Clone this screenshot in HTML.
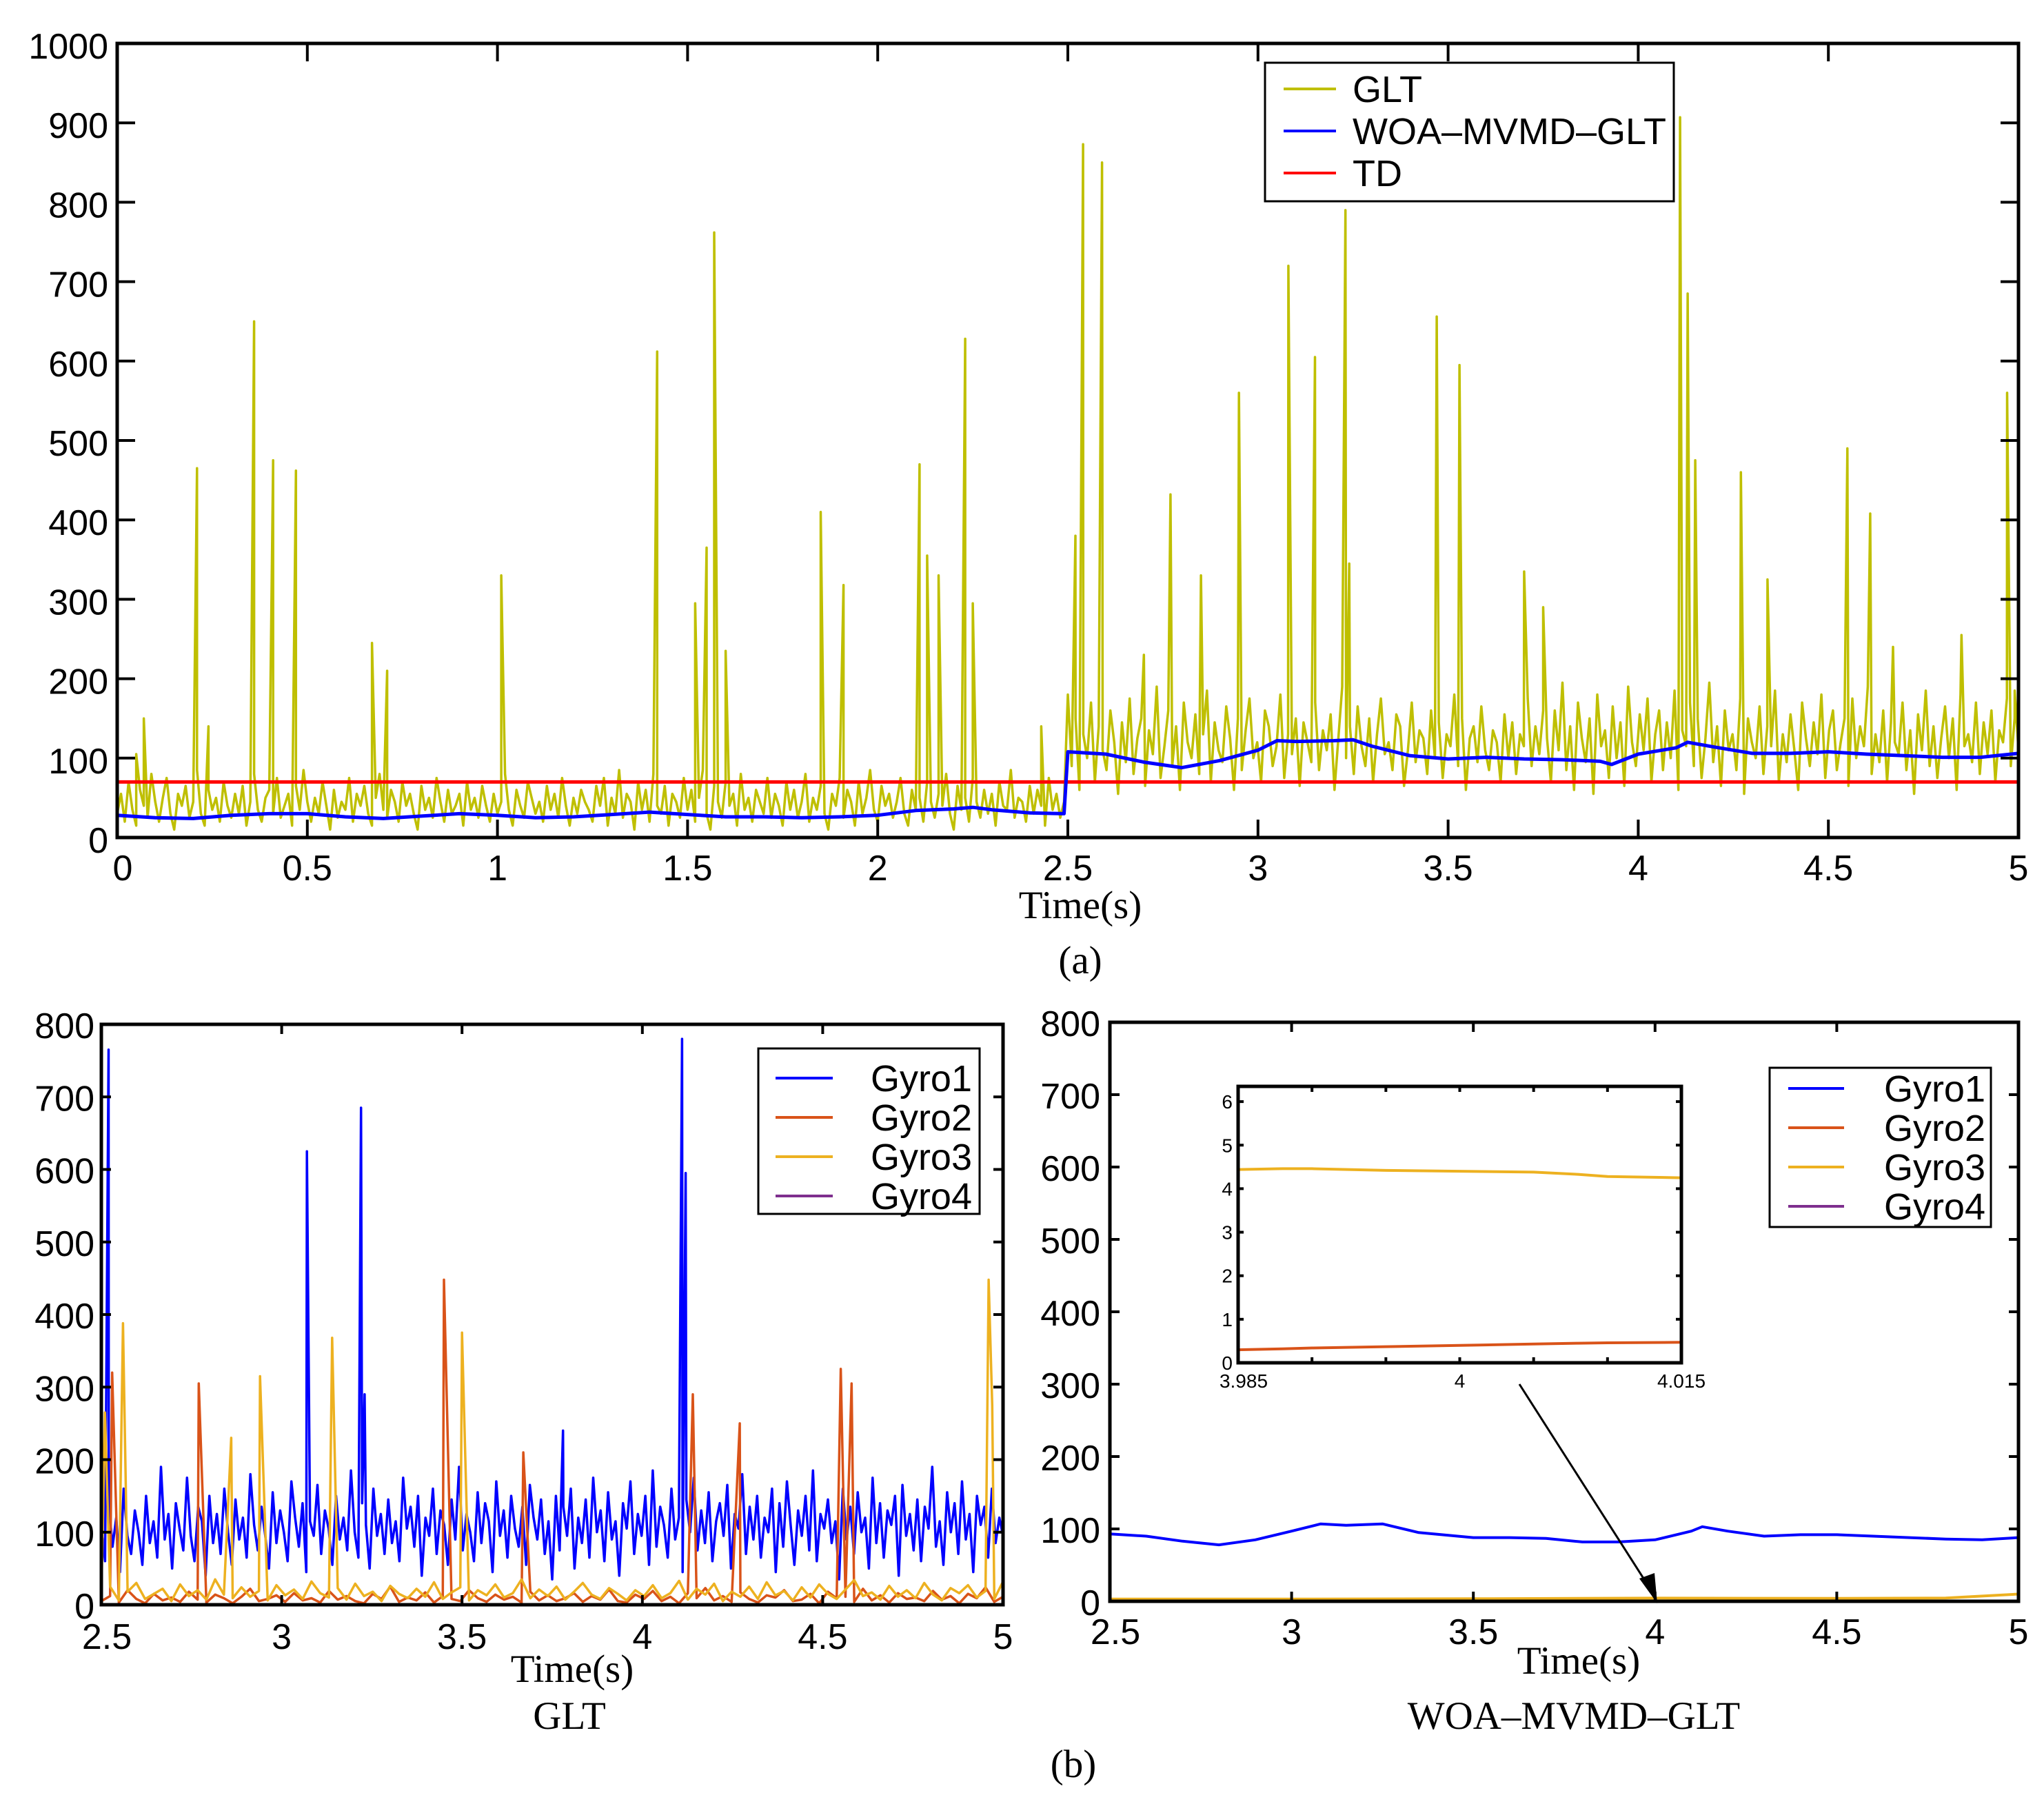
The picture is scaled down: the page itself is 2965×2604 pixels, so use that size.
<!DOCTYPE html>
<html><head><meta charset="utf-8"><style>
body{margin:0;background:#fff}
svg{display:block}
.tk{font-family:"Liberation Sans",sans-serif;font-size:52px;fill:#000}
.sm{font-family:"Liberation Sans",sans-serif;font-size:28px;fill:#000}
.lg{font-family:"Liberation Sans",sans-serif;font-size:54px;fill:#000}
.sf{font-family:"Liberation Serif",serif;font-size:57px;fill:#000}
</style></head><body>
<svg id="c" width="2965" height="2604" viewBox="0 0 2965 2604" xmlns="http://www.w3.org/2000/svg">
<text class="sf" x="1567" y="1332" text-anchor="middle">Time(s)</text>
<text class="sf" x="1567" y="1412" text-anchor="middle" font-size="64">(a)</text>
<text class="sf" x="830" y="2440" text-anchor="middle">Time(s)</text>
<text class="sf" x="826" y="2508" text-anchor="middle">GLT</text>
<text class="sf" x="2290" y="2428" text-anchor="middle">Time(s)</text>
<text class="sf" x="2283" y="2508" text-anchor="middle">WOA–MVMD–GLT</text>
<text class="sf" x="1557" y="2578" text-anchor="middle" font-size="64">(b)</text>
</svg>
<script>
// ---------- data ----------
const gltNoiseA=[30,55,20,70,35,15,60,40,25,80,45,20,50,75,30,10,55,40,65,25,45,85,30,15,60,35,50,20,70,40,25,55,30,65,15,45,80,35,20,50,60,30,75,25,40,55,15,65,35,85,45,20,50,30,70,40,10,60,25,45,35,75,20,55,40,65,30,15,50,80,35,25,60,45,20,70,40,55,30,10,65,35,50,25,75,45,20,60,30,40,55,15,70,35,50,25,65,40,20,55,30,45,80,35,15,60,40,25,70,50,30,45,20,65,35,55,25,75,40,15,50,30,60,45,35,
20,65,40,75,15,50,30,85,25,55,45,10,70,35,60,20,80,40,30,65,15,55,45,25,75,35,60,20,50,85,30,10,65,45,25,70,40,55,15,80,35,50,20,60,45,30,75,25,55,40,15,70,35,60,25,45,80,20,50,35,65,30,10,55,40,75,25,60,45,15,70,30,50,85,35,20,65,40,55,25,45,75,30,15,60,35,50,20,70,45,25,55,40,80,30,10,65,35,50,20,75,45,25,60,30,55,15,70,40,35,85,25,50,45,20,65,30,60,40,15,75,35,55,25,45];
const gltNoiseB=[180,90,150,60,130,100,170,70,140,110,85,160,120,55,145,95,175,80,125,150,65,135,105,190,75,115,160,90,140,60,170,120,100,155,80,130,185,70,145,110,95,165,125,60,150,85,135,175,100,120,70,160,140,90,115,180,75,130,105,150,65,145,120,95,170,85,135,110,155,60,125,190,100,140,80,165,115,90,150,70,130,175,105,120,85,155,140,65,110,170,95,135,125,80,160,100,145,75,130,115,180,90,150,60,125,140,95,165,110,85,135,120,70,155,100,145,80,130,115,175,90,140,105,160,125,
70,160,110,195,85,140,60,170,125,95,150,55,180,115,135,75,165,100,145,65,190,120,90,155,110,175,70,130,160,85,145,100,185,60,135,115,170,90,150,75,125,195,95,140,65,160,110,130,85,175,55,150,120,100,165,80,140,115,185,70,130,95,155,110,60,170,125,90,145,105,180,75,135,160,85,120,150,65,175,100,140,115,190,80,130,95,160,70,145,120,105,170,85,135,55,155,110,185,90,140,75,125,165,100,150,60,180,115,130,95,170,80,145,105,160,70,135,120,175,90,150,110];
const gltSpikeT=[0.05,0.07,0.21,0.24,0.36,0.41,0.47,0.67,0.71,1.01,1.42,1.52,1.55,1.57,1.6,1.85,1.91,2.11,2.13,2.16,2.23,2.25,2.43,2.52,2.54,2.59,2.7,2.77,2.85,2.95,3.08,3.15,3.23,3.24,3.47,3.53,3.7,3.75,4.11,4.13,4.15,4.27,4.34,4.55,4.61,4.67,4.85,4.97,4.99];
const gltSpikeV=[105,150,465,140,650,475,462,245,210,330,612,295,365,762,235,410,318,470,355,330,628,295,140,380,873,850,230,432,330,560,720,605,790,345,656,595,335,290,907,685,475,460,325,490,408,240,255,560,185];
const woaT=[0,0.1,0.2,0.3,0.4,0.5,0.6,0.7,0.8,0.9,1.0,1.1,1.2,1.3,1.4,1.5,1.6,1.7,1.8,1.9,2.0,2.1,2.2,2.25,2.3,2.4,2.49,2.5,2.6,2.7,2.8,2.9,3.0,3.05,3.1,3.2,3.25,3.3,3.4,3.5,3.6,3.7,3.8,3.9,3.93,4.0,4.1,4.13,4.2,4.3,4.4,4.5,4.6,4.7,4.8,4.9,5.0];
const woaV=[28,25,24,28,30,30,26,24,27,30,28,25,26,29,32,29,26,26,25,26,28,34,36,38,35,31,30,108,105,95,88,97,110,122,121,122,123,115,103,99,101,99,98,96,92,105,113,120,114,106,106,108,105,103,101,101,106];
const tdValue=70;
const g1Noise=[110,60,140,80,120,45,160,95,70,130,100,55,150,85,115,65,190,90,125,50,140,105,75,175,95,60,135,115,40,150,85,125,70,160,100,55,145,90,120,65,180,110,75,135,95,50,155,85,130,100,60,170,120,80,140,45,115,95,165,70,130,105,55,150,90,120,75,185,100,65,140,110,50,160,95,125,70,145,85,115,60,175,105,135,80,150,40,120,95,160,70,130,110,55,145,90,190,75,125,100,60,155,85,140,115,45,170,95,130,65,150,105,80,135,55,165,120,90,145,70,115,35,150,
75,135,95,160,50,120,85,145,65,175,100,130,60,155,90,115,40,140,105,170,70,125,95,150,55,185,80,135,110,65,160,90,120,45,145,100,175,75,130,85,155,60,115,140,95,165,50,125,105,180,70,135,90,150,65,120,100,160,45,140,80,170,110,55,130,95,150,75,185,60,125,105,145,85,115,35,160,90,135,70,155,100,120,50,175,85,140,65,130,110,150,40,165,95,125,75,145,60,135,105,190,80,115,55,155,100,140,70,170,90,125,45,150,110,135,65,160,85,120,95];
const g1SpikeT=[2.52,3.07,3.22,3.23,3.78,4.11,4.12];
const g1SpikeV=[765,625,685,290,240,780,595];
const g2Noise=[5,12,3,20,8,2,15,6,10,4,18,7,3,14,9,2,11,22,5,8,13,4,16,6,9,3,19,7,12,5,2,15,8,25,4,10,6,17,3,12,8,5,20,9,4,14,7,11,3,18,6,13,5,9,16,4,12,7,21,5,
3,14,8,19,5,11,2,16,9,23,6,12,4,17,8,3,13,10,20,5,7,15,2,18,9,11,4,22,6,13,3,16,8,10,5,19,7,12,2,15,9,24,4,11];
const g2SpikeT=[2.53,2.77,3.45,3.67,4.14,4.27,4.55,4.58];
const g2SpikeV=[320,305,448,210,290,250,325,305];
const g3Noise=[10,25,6,18,30,8,15,22,5,28,12,20,7,35,14,9,24,11,19,6,27,13,21,8,32,16,10,23,7,29,12,18,5,26,15,9,22,11,31,8,17,24,6,20,13,28,10,16,35,9,21,12,25,7,18,30,14,8,23,15,
6,20,12,27,9,16,33,7,22,14,29,5,18,11,25,8,31,13,19,6,24,10,28,15,8,21,34,12,17,7,26,11,20,9,30,14,6,23,16,27,10,19,8,32];
const g3SpikeT=[2.51,2.56,2.86,2.94,3.14,3.5,4.96,4.97];
const g3SpikeV=[265,388,230,315,368,375,448,275];
const r1T=[2.5,2.6,2.7,2.8,2.9,3.0,3.08,3.15,3.25,3.35,3.5,3.6,3.7,3.8,3.9,4.0,4.1,4.13,4.2,4.3,4.4,4.5,4.6,4.7,4.8,4.9,5.0];
const r1V=[93,90,83,78,85,97,107,105,107,95,88,88,87,82,82,85,97,103,97,90,92,92,90,88,86,85,88];
const r3T=[2.5,3.0,3.5,4.0,4.5,4.8,5.0];
const r3V=[3,3,3.5,4.4,4,4.5,10];
const r2V=0.4;
const inT=[3.985,3.988,3.99,3.995,4.0,4.005,4.008,4.01,4.015];
const in3V=[4.44,4.46,4.46,4.42,4.4,4.38,4.33,4.28,4.25];
const in2V=[0.3,0.32,0.34,0.37,0.4,0.43,0.45,0.46,0.47];
const topXTicks=[0,0.5,1,1.5,2,2.5,3,3.5,4,4.5,5];
const topYTicks=[0,100,200,300,400,500,600,700,800,900,1000];
const botXTicks=[2.5,3,3.5,4,4.5,5];
const botYTicks=[0,100,200,300,400,500,600,700,800];
const inXTicks=[3.985,4,4.015];
const inYTicks=[0,1,2,3,4,5,6];

// ---------- helpers ----------
const svg=document.getElementById('c');
const NS='http://www.w3.org/2000/svg';
function mk(tag,attrs,parent){const e=document.createElementNS(NS,tag);for(const k in attrs)e.setAttribute(k,attrs[k]);(parent||svg).appendChild(e);return e;}
function axis(x0,x1,y0,y1,xmin,xmax,ymin,ymax){return{x:v=>x0+(v-xmin)/(xmax-xmin)*(x1-x0),y:v=>y1-(v-ymin)/(ymax-ymin)*(y1-y0),x0,x1,y0,y1};}
function merge(noise,t0,t1,spT,spV){const pts=noise.map((v,i)=>[t0+i*(t1-t0)/(noise.length-1),v]);for(let i=0;i<spT.length;i++)pts.push([spT[i],spV[i]]);pts.sort((a,b)=>a[0]-b[0]);return pts;}
function line(ax,pts,color,w,name){const d=pts.map((p,i)=>(i?'L':'M')+ax.x(p[0]).toFixed(1)+' '+ax.y(p[1]).toFixed(1)).join('');const p=mk('path',{d:d,fill:'none',stroke:color,'stroke-width':w,'stroke-linejoin':'round'});


return p;}
function frame(ax,xt,yt,cls,xfmt,tl,name,xlOff,ylOff,yb){
  const g=mk('g',{});
  
  
  xt.forEach(v=>{const x=ax.x(v);mk('line',{x1:x,x2:x,y1:ax.y1,y2:ax.y1-tl,stroke:'#000','stroke-width':4},g);mk('line',{x1:x,x2:x,y1:ax.y0,y2:ax.y0+tl,stroke:'#000','stroke-width':4},g);
    const t=mk('text',{x:x+ (v===xt[0]?8:0),y:ax.y1+xlOff,'text-anchor':'middle',class:cls},g);t.textContent=xfmt(v);
    
    });
  yt.forEach(v=>{const y=ax.y(v);mk('line',{x1:ax.x0,x2:ax.x0+tl,y1:y,y2:y,stroke:'#000','stroke-width':4},g);mk('line',{x1:ax.x1,x2:ax.x1-tl,y1:y,y2:y,stroke:'#000','stroke-width':4},g);
    const t=mk('text',{x:ax.x0-ylOff,y:y+yb,'text-anchor':'end',class:cls},g);t.textContent=String(v);
    
    });
  mk('rect',{x:ax.x0,y:ax.y0,width:ax.x1-ax.x0,height:ax.y1-ax.y0,fill:'none',stroke:'#000','stroke-width':5},g);
}
function legend(x,y,w,h,items,rowY,lx0,lx1,tx,anchor,name){
  const g=mk('g',{});
  
  
  mk('rect',{x:x,y:y,width:w,height:h,fill:'#fff',stroke:'#000','stroke-width':3},g);
  items.forEach((it,i)=>{mk('line',{x1:lx0,x2:lx1,y1:rowY[i],y2:rowY[i],stroke:it[1],'stroke-width':4},g);
    const t=mk('text',{x:tx,y:rowY[i]+19,'text-anchor':anchor,class:'lg'},g);t.textContent=it[0];
    
    });
}
// ---------- top plot ----------
const A=axis(170,2928,63,1215,0,5,0,1000);
line(A,merge(gltNoiseA,0,2.49,gltSpikeT.filter(t=>t<2.5),gltSpikeV.filter((v,i)=>gltSpikeT[i]<2.5)).concat(merge(gltNoiseB,2.5,5,gltSpikeT.filter(t=>t>=2.5),gltSpikeV.filter((v,i)=>gltSpikeT[i]>=2.5))),'#BFBF00',3.5,'glt-line');
line(A,[[0,tdValue],[5,tdValue]],'#FF0000',5,'td-line');
line(A,woaT.map((t,i)=>[t,woaV[i]]),'#0000FF',5,'woa-mvmd-glt-line');
frame(A,topXTicks,topYTicks,'tk',v=>String(v),26,'top-axes',62,13,22);
legend(1835,91,593,201,[['GLT','#BFBF00'],['WOA–MVMD–GLT','#0000FF'],['TD','#FF0000']],[129,190,251],1862,1938,1962,'start','top-legend');
// ---------- bottom-left ----------
const B=axis(147,1455,1486,2328,2.5,5,0,800);
line(B,merge(g1Noise,2.5,5,g1SpikeT,g1SpikeV),'#0000FF',3.5,'bl-gyro1-line');
line(B,merge(g2Noise,2.5,5,g2SpikeT,g2SpikeV),'#D95319',3.5,'bl-gyro2-line');
line(B,merge(g3Noise,2.5,5,g3SpikeT,g3SpikeV),'#EDB120',3.5,'bl-gyro3-line');
line(B,[[2.5,0.5],[5,0.5]],'#7E2F8E',4,'bl-gyro4-line');
frame(B,botXTicks,botYTicks,'tk',v=>String(v),14,'bl-axes',64,10,20);
const gy=[['Gyro1','#0000FF'],['Gyro2','#D95319'],['Gyro3','#EDB120'],['Gyro4','#7E2F8E']];
legend(1100,1521,321,240,gy,[1564,1621,1678,1735],1125,1208,1410,'end','bl-legend');
// ---------- bottom-right ----------
const C=axis(1610,2928,1483,2323,2.5,5,0,800);
line(C,r1T.map((t,i)=>[t,r1V[i]]),'#0000FF',4,'br-gyro1-line');
line(C,r3T.map((t,i)=>[t,r3V[i]]),'#EDB120',4,'br-gyro3-line');
line(C,[[2.5,r2V],[5,r2V]],'#D95319',3,'br-gyro2-line');
line(C,[[2.5,0],[5,0]],'#7E2F8E',4,'br-gyro4-line');
frame(C,botXTicks,botYTicks,'tk',v=>String(v),14,'br-axes',62,14,20);
legend(2567,1549,321,231,gy,[1579,1636,1693,1750],2594,2675,2880,'end','br-legend');
// ---------- inset ----------
const I=axis(1796,2439,1576,1977,3.985,4.015,0,6.35);
mk('rect',{x:1796,y:1576,width:643,height:401,fill:'#fff'});
line(I,inT.map((t,i)=>[t,in3V[i]]),'#EDB120',4,'inset-gyro3-line');
line(I,inT.map((t,i)=>[t,in2V[i]]),'#D95319',4,'inset-gyro2-line');
line(I,[[3.985,0],[4.015,0]],'#7E2F8E',4,'inset-gyro4-line');
frame(I,[3.985,3.99,3.995,4,4.005,4.01,4.015],inYTicks,'sm',v=>inXTicks.includes(v)?String(v):'',8,'inset-axes',36,8,10);
// arrow
const ar=mk('line',{x1:2204,y1:2008,x2:2397,y2:2310,stroke:'#000','stroke-width':3});


const ah=mk('polygon',{points:'2404,2326 2378,2290 2400,2282',fill:'#000'});


</script>
</body></html>
